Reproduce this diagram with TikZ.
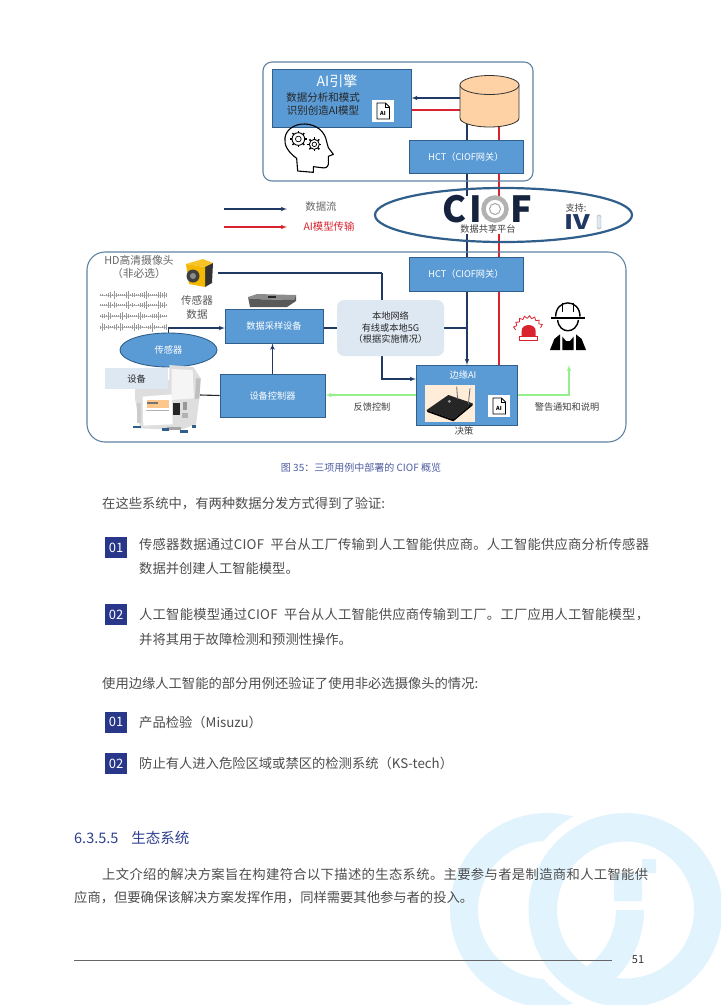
\documentclass[tikz,border=0pt]{standalone}
\usepackage{fontspec}
\setmainfont{Noto Sans CJK SC}
\usepackage{tikz}
\usetikzlibrary{arrows}
\usetikzlibrary{backgrounds, shapes.geometric}
\definecolor{boxblue}{HTML}{5B9BD5}
\definecolor{boxedge}{HTML}{2F5F8A}
\definecolor{framegray}{HTML}{5F83A3}
\definecolor{navyline}{HTML}{1F3864}
\definecolor{logonavy}{HTML}{16233F}
\definecolor{redline}{HTML}{D9232E}
\definecolor{greenline}{HTML}{93F08D}
\definecolor{paleblue}{HTML}{DEE8F3}
\definecolor{bodygray}{HTML}{4D4D4D}
\definecolor{headblue}{HTML}{2F3F8F}
\definecolor{badgeblue}{HTML}{28378A}
\definecolor{markblue}{HTML}{E1F3FD}
\definecolor{camyellow}{HTML}{F5B800}
\begin{document}
\begin{tikzpicture}[x=1pt,y=-1pt]
      \tikzset{fsize/.style = {font=\fontsize{#1}{13}\selectfont}}
      \tikzset{bsize/.style = {font=\fontsize{#1}{13}\selectfont\bfseries}}
      \tikzset{spread/.style = {font=\fontsize{13.3}{13}\selectfont\addfontfeature{LetterSpace=#1}}}
      \tikzset{bluebox/.style = {shape=rectangle,draw=boxedge,fill=boxblue,line width=0.9pt,text=white,fsize=9.2,align=center,inner sep=0pt}}
      \tikzset{frame/.style = {draw=framegray,rounded corners=#1,line width=1.1pt}}
      \tikzset{label/.style = {text=black!75,fsize=9.2,align=center,inner sep=0pt}}
      \tikzset{body/.style = {anchor=west,text=bodygray,fsize=13.3,inner sep=0pt}}
      \tikzset{badge/.style = {shape=rectangle,fill=badgeblue,text=white,fsize=13,minimum width=22pt,minimum height=21pt,inner sep=0pt}}
      \tikzset{aibox/.style = {shape=rectangle,fill=white,minimum size=22pt,inner sep=0pt}}
      \tikzset{dataflow/.style = {draw=navyline,line width=1.1pt,> = latex'}}
      \tikzset{modelflow/.style = {draw=redline,line width=1.1pt,> = latex'}}
      \tikzset{alertflow/.style = {draw=greenline,line width=1.1pt,> = latex'}}
      \useasboundingbox (0,0) rectangle (721,1005);
      % frames
      \draw[frame=9pt] (263,62) rectangle (533,181);
      \draw[frame=18pt] (87,252) rectangle (626,442);
      % top block
      \node[bluebox,minimum width=139pt,minimum height=58pt,line width=0.6pt] (engine) at (341.5,98) {};
      \node[text=white,fsize=14,inner sep=0pt] (enginetitle) at (337,81) {AI引擎};
      \node[text=black!85,fsize=10.5,align=center,inner sep=0pt] (enginetext) at (323,104) {数据分析和模式\\识别创造AI模型};
      \node[aibox] (aitop) at (383,111) {};
      \draw[draw=black!80,fill=orange!35!white,line width=0.8pt] (460,85) -- (460,118) arc[start angle=180,end angle=360,x radius=29.5pt,y radius=9pt] -- (519,85) -- cycle;
      \draw[draw=black!80,fill=orange!35!white,line width=0.8pt] (489.5,85) ellipse [x radius=29.5pt,y radius=9.5pt];
      \node[bluebox,minimum width=114pt,minimum height=33pt] (hcttop) at (466,156.5) {HCT（CIOF网关）};
      \coordinate (dbblue) at (467,124);
      \coordinate (dbred) at (499,126);
      \coordinate (dbin) at (460,98);
      \coordinate (dbout) at (460,110);
      % platform
      \node[shape=ellipse,draw=boxedge,line width=2.2pt,minimum width=257pt,minimum height=54pt,inner sep=0pt] (ciof) at (503.5,215) {};
      \node[shape=rectangle,fill=white,minimum width=92pt,minimum height=38pt,inner sep=0pt] (ciofback) at (486,215) {};
      \node[text=logonavy,bsize=36,inner sep=0pt] (ciofc) at (454.5,209) {C};
      \node[text=logonavy,bsize=36,inner sep=0pt] (ciofi) at (475.5,209) {I};
      \node[shape=circle,draw=black!30,fill=white,line width=4.5pt,minimum size=23pt,inner sep=0pt] (ciofo) at (495,209) {};
      \node[shape=circle,draw=black!35,line width=1pt,minimum size=11pt,inner sep=0pt] (ciofoin) at (495,209) {};
      \node[text=logonavy,bsize=36,inner sep=0pt] (cioff) at (521,209) {F};
      \node[label] (shareplat) at (488,229) {数据共享平台};
      \node[label] (support) at (576,208) {支持:};
      \node[text=navyline,bsize=20,transform shape,xscale=1.3,inner sep=0pt] (ivi) at (577.5,222) {IV};
      \node[shape=rectangle,rounded corners=1.5pt,draw=black!35,fill=paleblue,minimum width=4pt,minimum height=14pt,inner sep=0pt] (ivibar) at (599,222) {};
      % legend
      \coordinate (legbluel) at (224,209);
      \coordinate (legbluer) at (287,209);
      \coordinate (legredl) at (224,227);
      \coordinate (legredr) at (287,227);
      \draw[dataflow,->] (legbluel) -- (legbluer);
      \draw[modelflow,->] (legredl) -- (legredr);
      \node[text=black!60,fsize=10.4,inner sep=0pt] (legdata) at (321,207) {数据流};
      \node[text=redline,fsize=10.4,inner sep=0pt] (legmodel) at (329,227) {AI模型传输};
      % plant block
      \node[text=black!60,fsize=10.8,align=center,inner sep=0pt] (hdcam) at (139,266.5) {HD高清摄像头\\（非必选）};
      \node[text=black!65,fsize=10.6,align=center,inner sep=0pt] (sensdata) at (197,307) {传感器\\[1pt]数据};
      \node[bluebox,minimum width=98pt,minimum height=34pt] (sampler) at (274,326) {数据采样设备};
      \node[shape=ellipse,draw=boxedge,fill=boxblue,line width=0.9pt,text=white,fsize=9.2,minimum width=97pt,minimum height=34pt,inner sep=0pt] (sensor) at (168.5,350) {传感器};
      \node[shape=rectangle,rounded corners=7pt,fill=paleblue,text=black!85,fsize=9.2,align=center,minimum width=107pt,minimum height=56pt,inner sep=0pt] (localnet) at (390.5,328) {本地网络\\[-1.5pt]有线或本地5G\\[-1.5pt]（根据实施情况）};
      \node[bluebox,minimum width=105pt,minimum height=43pt] (controller) at (272.5,395.5) {设备控制器};
      \node[bluebox,minimum width=114pt,minimum height=34pt] (hctlow) at (466,274) {HCT（CIOF网关）};
      \node[bluebox,minimum width=101pt,minimum height=60pt] (edge) at (466.5,395) {};
      \node[text=white,fsize=9.2,inner sep=0pt] (edgetitle) at (463,375) {边缘AI};
      \node[shape=rectangle,fill=orange!15!white,minimum width=50pt,minimum height=37pt,inner sep=0pt] (routerback) at (450,403.5) {};
      \node[aibox] (ailow) at (499,406) {};
      % press machine
      \begin{scope}[shift={(130,365)},scale=1/3]
        \fill[black!13] (15,50) -- (118,45) -- (118,0) -- (190,6) -- (212,40) -- (208,100) -- (198,178) -- (150,195) -- (30,190) -- (15,100) -- cycle;
        \fill[white] (38,95) -- (125,88) -- (128,178) -- (40,182) -- cycle;
        \fill[black!4] (125,12) -- (188,15) -- (192,100) -- (125,105) -- cycle;
        \fill[black!25] (198,40) -- (212,40) -- (208,100) -- (195,102) -- cycle;
        \fill[orange!45!white] (50,105) rectangle (118,130);
        \fill[black!55] (50,110) rectangle (85,117);
        \fill[black!30] (48,135) rectangle (118,139);
        \fill[black!85] (130,115) rectangle (150,150);
        \fill[black!40] (158,110) rectangle (172,135);
        \fill[black!30] (155,145) rectangle (175,160);
        \fill[black!20] (20,115) rectangle (32,175);
        \fill[black!35] (112,186) rectangle (152,196);
        \fill[boxedge] (8,182) rectangle (32,190);
        \fill[boxedge] (95,190) rectangle (118,198);
        \fill[boxedge] (150,196) rectangle (175,204);
        \fill[boxedge] (185,180) rectangle (198,188);
      \end{scope}
      \node[shape=rectangle,fill=paleblue,text=black!85,fsize=9.2,minimum width=63pt,minimum height=21pt,inner sep=0pt] (machine) at (136.5,378.5) {设备};
      \coordinate (machineout) at (200,395);
      % small device on sampler
      \fill[black!45] (248,297) -- (257,294) -- (296,295) -- (294,300) -- (250,299) -- cycle;
      \fill[black!65] (248,297) -- (250,299) -- (294,300) -- (296,295) -- (296,301) -- (287,307) -- (250,307) -- cycle;
      \fill[black!85] (268,296) rectangle (276,298);
      % camera
      \fill[camyellow!85!white] (186,264) -- (203,259) -- (213,263) -- (205,267) -- cycle;
      \fill[black!80] (205,267) -- (213,263) -- (212,283) -- (205,287) -- cycle;
      \fill[camyellow] (186,264) -- (205,267) -- (205,287) -- (189,284) -- cycle;
      \fill[black!75] (193,276) circle (6.5pt);
      \fill[black!45] (193,276) circle (3pt);
      % sound waves
      \foreach \wy in {295,305,316,327} {
        \draw[black!25,line width=0.4pt] (100,\wy) -- (166,\wy);
        \foreach \wx in {100,102,...,166}
          \draw[black!40,line width=0.6pt] (\wx,{\wy-0.5-4*(sin(\wx*11+\wy*37))^2*abs(sin(\wx*61))}) -- (\wx,{\wy+0.5+4*(sin(\wx*11+\wy*37))^2*abs(sin(\wx*61))});
      }
      % router
      \begin{scope}[shift={(420,380)},scale=1/3]
        \fill[black!85] (20,90) -- (85,45) -- (158,70) -- (100,118) -- cycle;
        \fill[black] (20,90) -- (100,118) -- (158,70) -- (158,76) -- (100,124) -- (22,96) -- cycle;
        \fill[black!40] (88,64) circle (5pt);
        \draw[black!60,line width=0.8pt] (110,20) -- (113,58);
        \draw[black!60,line width=0.8pt] (150,25) -- (145,72);
      \end{scope}
      % file icons
      \foreach \ix/\iy in {383/111,499/406} {
        \draw[black,line width=0.8pt,fill=white] (\ix-6,\iy-8) -- (\ix+2.5,\iy-8) -- (\ix+6.5,\iy-4) -- (\ix+6.5,\iy+8) -- (\ix-6,\iy+8) -- cycle;
        \draw[black,line width=0.6pt] (\ix+2.5,\iy-8) -- (\ix+2.5,\iy-4) -- (\ix+6.5,\iy-4);
        \node[bsize=5.5,inner sep=0pt] at (\ix,\iy+2) {AI};
      }
      % head with gears
      \begin{scope}[shift={(275,115)},scale=1/3,line width=1pt]
        \draw[line width=1.1pt,line join=round] (68,168) -- (65,130) .. controls (40,112) and (26,90) .. (30,68) .. controls (34,42) and (60,26) .. (90,27) .. controls (125,28) and (150,50) .. (155,80) -- (160,98) -- (175,118) -- (160,124) -- (160,148) .. controls (158,158) and (150,160) .. (140,158) -- (115,155) -- (115,172) -- cycle;
        \foreach \gx/\gy/\gr in {70/72/19,118/88/15} {
          \draw[line width=0.9pt] (\gx,\gy) circle ({\gr*1pt});
          \draw[line width=0.7pt] (\gx,\gy) circle ({\gr*0.45pt});
          \foreach \ga in {0,45,...,315}
            \draw[line width=1.5pt] ({\gx+\gr*cos(\ga)},{\gy+\gr*sin(\ga)}) -- ({\gx+(\gr+6)*cos(\ga)},{\gy+(\gr+6)*sin(\ga)});
        }
      \end{scope}
      % beacon and worker
      \begin{scope}[shift={(505,295)},scale=1/3]
        \fill[redline] (50,125) -- (50,108) .. controls (50,84) and (92,84) .. (92,108) -- (92,125) -- cycle;
        \draw[redline,line width=0.9pt] (43,125) rectangle (98,135);
        \foreach \ra in {15,35,...,165}
          \draw[redline,line width=0.8pt] ({70+38*cos(\ra)},{108-38*sin(\ra)}) -- ({70+46*cos(\ra+10)},{108-46*sin(\ra+10)}) -- ({70+38*cos(\ra+20)},{108-38*sin(\ra+20)});
        \draw[black,line width=1.4pt] (152,65) .. controls (152,10) and (225,10) .. (225,65);
        \draw[black,line width=1.4pt] (172,24) -- (172,50);
        \draw[black,line width=1.4pt] (205,24) -- (205,50);
        \draw[black,line width=1.8pt] (138,68) -- (240,68);
        \draw[black,line width=1.4pt] (158,75) .. controls (162,118) and (215,118) .. (220,75);
        \fill[black] (135,165) -- (148,132) -- (165,118) -- (165,165) -- cycle;
        \fill[black] (172,125) -- (183,138) -- (195,138) -- (206,125) -- (206,165) -- (172,165) -- cycle;
        \fill[black] (213,118) -- (230,132) -- (243,165) -- (213,165) -- cycle;
      \end{scope}
      % free labels
      \node[label] (feedback) at (372,407) {反馈控制};
      \node[label] (decision) at (464,431) {决策};
      \node[label] (warning) at (567,407) {警告通知和说明};
      % wire ends
      \coordinate (camout) at (218,273);
      \coordinate (camturn) at (382,273);
      \coordinate (edgein) at (416,379);
      \coordinate (samplerin) at (225,328);
      \coordinate (netblue) at (467,328);
      \coordinate (alarmin) at (569,365);
      \coordinate (edgeblue) at (467,365);
      \coordinate (edgered) at (499,394);
      \coordinate (hctblueb) at (467,173);
      \coordinate (hctredb) at (499,173);
      \coordinate (hctbluet) at (467,257);
      \coordinate (hctredt) at (499,257);
      \coordinate (lowblue) at (467,291);
      \coordinate (lowred) at (499,291);
      \begin{scope}[on background layer]
        \fill[white] (0,0) rectangle (721,1005);
        % watermark
        \begin{scope}
          \clip (0,0) rectangle (721,1005);
          \fill[markblue,even odd rule] (547,910) circle (97pt) (547,910) circle (69pt);
          \fill[white] (625.5,910) circle (107pt);
          \fill[markblue,even odd rule] (625.5,910) circle (97pt) (625.5,910) circle (68.5pt);
          \begin{scope}
            \clip (625.5,910) circle (68.5pt);
            \clip (500,910) rectangle (721,1005);
            \fill[markblue,even odd rule] (547,910) circle (97pt) (547,910) circle (69pt);
          \end{scope}
        \end{scope}
        \fill[markblue] (642,859) -- (656,859) -- (656,873) -- (642,873) -- (642,901) -- (614,901) -- (614,873) -- (642,873) -- cycle;
        % connectors
        \draw[dataflow] (dbblue) -- (hctblueb |- hcttop.north);
        \draw[modelflow] (dbred) -- (hctredb |- hcttop.north);
        \draw[dataflow] (hctblueb) -- (hctbluet);
        \draw[modelflow] (hctredb) -- (hctredt);
        \draw[dataflow,->] (dbin) -- (engine.east |- dbin);
        \draw[modelflow] (aitop.east |- dbout) -- (dbout);
        \draw[dataflow] (camout) -- (camturn);
        \draw[dataflow,->] (camturn) |- (edgein);
        \draw[dataflow,->] (sensor.north) |- (samplerin);
        \draw[dataflow] (sampler.east |- localnet.west) -- (localnet.west);
        \draw[dataflow] (localnet.east) -- (netblue);
        \draw[dataflow,->] (lowblue) -- (edgeblue);
        \draw[modelflow,line width=1.5pt,->] (lowred) -- (edgered);
        \draw[dataflow,->] (controller.north) -- (controller.north |- sampler.south);
        \draw[line width=1.1pt,black!85] (machineout) -- (controller.west);
        \draw[alertflow,->] (edge.west) -- (controller.east |- edge.west);
        \draw[alertflow,->] (edge.east) -| (alarmin);
      \end{scope}
      % caption and page text
      \node[text=headblue!85!white,fsize=10,inner sep=0pt] (caption) at (361,467.5) {图 35：三项用例中部署的 CIOF 概览};
      \node[body] (intro) at (102,504) {在这些系统中，有两种数据分发方式得到了验证:};
      \node[badge] (bad1) at (116,547.5) {01};
      \node[body,spread=1.7] (txt1a) at (139,544) {传感器数据通过CIOF\ \ 平台从工厂传输到人工智能供应商。人工智能供应商分析传感器};
      \node[body] (txt1b) at (139,568) {数据并创建人工智能模型。};
      \node[badge] (bad2) at (116,614.5) {02};
      \node[body,spread=1.7] (txt2a) at (139,615) {人工智能模型通过CIOF\ \ 平台从人工智能供应商传输到工厂。工厂应用人工智能模型，};
      \node[body] (txt2b) at (139,639) {并将其用于故障检测和预测性操作。};
      \node[body] (intro2) at (102,683) {使用边缘人工智能的部分用例还验证了使用非必选摄像头的情况:};
      \node[badge] (bad3) at (116,722) {01};
      \node[body] (txt3) at (139,722) {产品检验（Misuzu）};
      \node[badge] (bad4) at (116,763.5) {02};
      \node[body] (txt4) at (139,763) {防止有人进入危险区域或禁区的检测系统（KS-tech）};
      \node[body,text=headblue,fsize=14.5] (heading) at (74,838) {6.3.5.5\hspace{13pt}生态系统};
      \node[body,spread=2.7] (para1) at (102,874) {上文介绍的解决方案旨在构建符合以下描述的生态系统。主要参与者是制造商和人工智能供};
      \node[body] (para2) at (74,898) {应商，但要确保该解决方案发挥作用，同样需要其他参与者的投入。};
      \coordinate (footl) at (74,960);
      \coordinate (footr) at (612,960);
      \draw[black!60,line width=0.7pt] (footl) -- (footr);
      \node[text=black!80,fsize=11,inner sep=0pt] (pagenum) at (638,960) {51};
\end{tikzpicture}
\end{document}
